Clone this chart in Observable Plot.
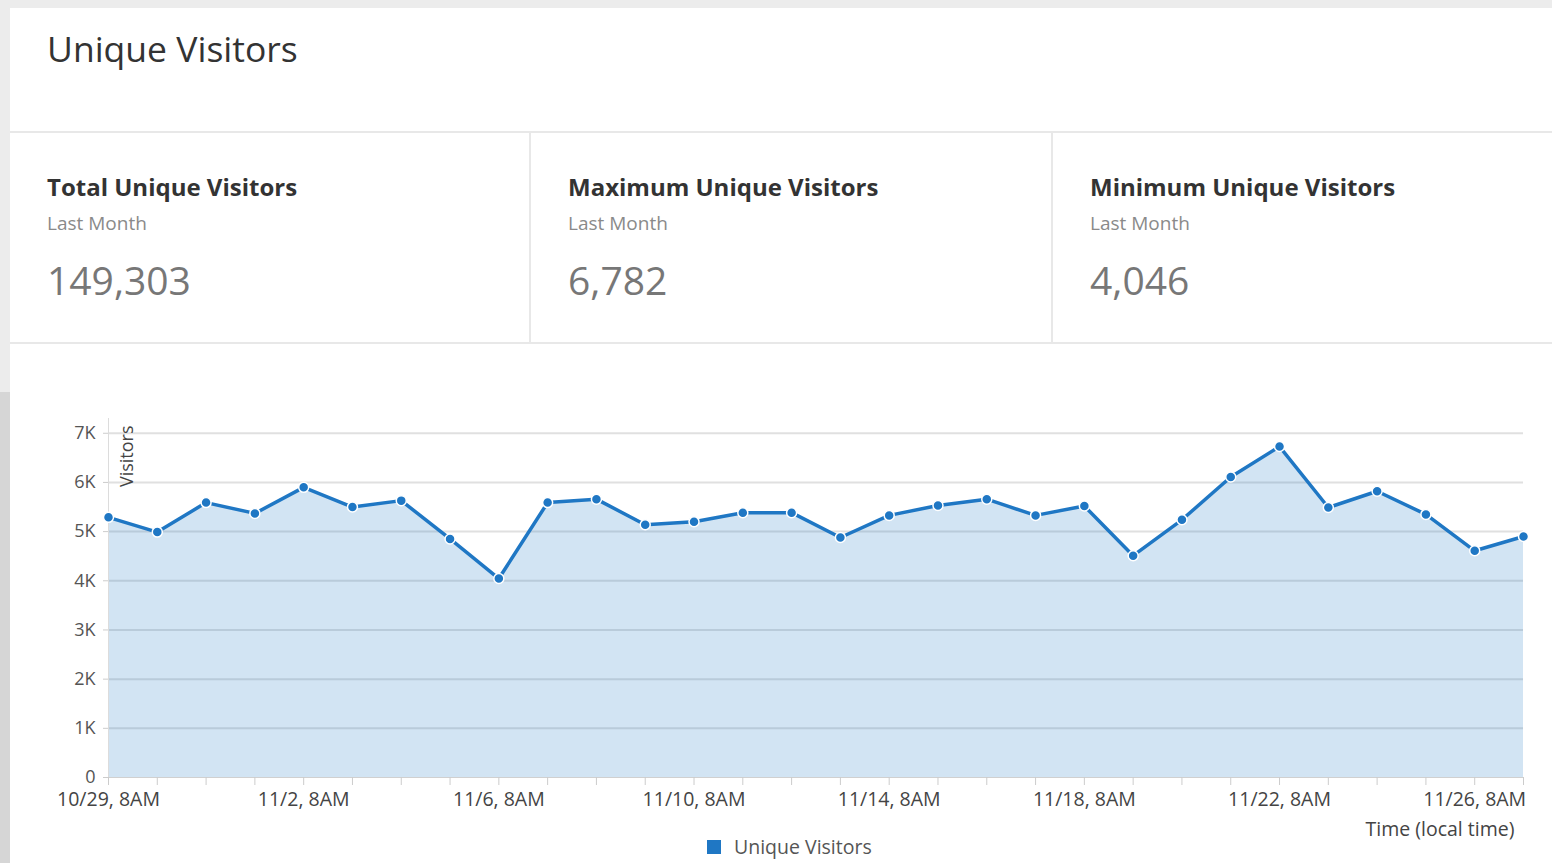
<!DOCTYPE html>
<html>
<head>
<meta charset="utf-8">
<script src="https://cdn.jsdelivr.net/npm/d3@7"></script>
<script src="https://cdn.jsdelivr.net/npm/@observablehq/plot@0.6"></script>
<style>
  html, body { margin: 0; padding: 0; }
  body { width: 1552px; height: 863px; background: #ececec; position: relative; overflow: hidden; font-family: "Open Sans", sans-serif; }
  #strip { position: absolute; left: 0; top: 392px; width: 10px; height: 471px; background: #d6d6d6; }
  #card { position: absolute; left: 10px; top: 8px; right: 0; bottom: 0; background: #fff; }
  .abs { position: absolute; white-space: nowrap; line-height: 1; }
  .hline { position: absolute; left: 10px; right: 0; height: 2px; background: #e8e8e8; }
  .vline { position: absolute; width: 2px; background: #e8e8e8; }
  .title { font-size: 35.5px; color: #333; }
  .sh { font-size: 24px; font-weight: 700; color: #333; }
  .sub { font-size: 19px; color: #8a8a8a; }
  .num { font-size: 39px; color: #777; }
  #chart { position: absolute; left: 0; top: 400px; }
  #legend { position: absolute; left: 707px; top: 833px; display: flex; align-items: center; font-size: 19.5px; color: #555; }
  #legend .sw { width: 14px; height: 14px; background: #1f77c4; margin-right: 13px; }
</style>
</head>
<body>
<div id="strip"></div>
<div id="card"></div>
<div class="abs title" style="left:47px; top:31px;">Unique Visitors</div>
<div class="hline" style="top:131px;"></div>
<div class="hline" style="top:342px;"></div>
<div class="vline" style="left:529px; top:133px; height:209px;"></div>
<div class="vline" style="left:1051px; top:133px; height:209px;"></div>
<div id="stats"></div>
<div id="chart"></div>
<div id="legend"><div class="sw"></div><span>Unique Visitors</span></div>
<script>
// ---- data ----
const statTitles = ["Total Unique Visitors", "Maximum Unique Visitors", "Minimum Unique Visitors"];
const statPeriods = ["Last Month", "Last Month", "Last Month"];
const statValues = ["149,303", "6,782", "4,046"];

const dayLabels = ["10/29","10/30","10/31","11/1","11/2","11/3","11/4","11/5","11/6","11/7",
  "11/8","11/9","11/10","11/11","11/12","11/13","11/14","11/15","11/16","11/17",
  "11/18","11/19","11/20","11/21","11/22","11/23","11/24","11/25","11/26","11/27"];
const visitors = [5290, 4990, 5590, 5370, 5900, 5500, 5630, 4850, 4046, 5590,
  5660, 5140, 5200, 5385, 5385, 4880, 5330, 5530, 5660, 5330,
  5520, 4510, 5240, 6110, 6730, 5490, 5820, 5350, 4610, 4900];
const xTickLabels = ["10/29, 8AM","11/2, 8AM","11/6, 8AM","11/10, 8AM","11/14, 8AM","11/18, 8AM","11/22, 8AM","11/26, 8AM"];
const yTicks = [0, 1000, 2000, 3000, 4000, 5000, 6000, 7000];
const yTickLabels = ["0","1K","2K","3K","4K","5K","6K","7K"];
const yLabel = "Visitors";
const xLabel = "Time (local time)";
const seriesName = "Unique Visitors";

// ---- stats cards ----
const statsX = [47, 568, 1090];
const stats = document.getElementById("stats");
statTitles.forEach((t, i) => {
  stats.insertAdjacentHTML("beforeend",
    `<div class="abs sh" style="left:${statsX[i]}px; top:175px;">${t}</div>` +
    `<div class="abs sub" style="left:${statsX[i]}px; top:214px;">${statPeriods[i]}</div>` +
    `<div class="abs num" style="left:${statsX[i]}px; top:260px;">${statValues[i]}</div>`);
});

// ---- chart ----
const parseDay = (s) => { const [m, d] = s.split("/").map(Number); return new Date(Date.UTC(2018, m - 1, d, 8)); };
const data = dayLabels.map((s, i) => ({date: parseDay(s), value: visitors[i]}));
const dates = data.map(d => d.date);
const labelMap = new Map();
xTickLabels.forEach(l => labelMap.set(+parseDay(l.split(",")[0]), l));
const yLabMap = new Map(yTicks.map((v, i) => [v, yTickLabels[i]]));

const plot = Plot.plot({
  width: 1552,
  height: 448,
  marginLeft: 108,
  marginRight: 29,
  marginTop: 18,
  marginBottom: 71,
  style: {fontFamily: "'Open Sans', sans-serif", fontSize: "18px", color: "#555", background: "transparent"},
  x: {type: "utc", domain: [dates[0], dates[dates.length - 1]]},
  y: {domain: [0, 7300]},
  marks: [
    Plot.ruleY(yTicks.slice(1), {stroke: "#e0e0e0", strokeWidth: 2}),
    Plot.areaY(data, {x: "date", y: "value", fill: "#1f77c4", fillOpacity: 0.2}),
    Plot.frame({anchor: "left", stroke: "#dcdcdc"}),
    Plot.ruleY([0], {stroke: "#d0d0d0"}),
    Plot.axisY(yTicks, {tickSize: 5, tickPadding: 8, stroke: "#ccc", fill: "#555", fontSize: 18, tickFormat: d => yLabMap.get(d), label: null}),
    Plot.axisX(dates, {tickSize: 8, tickPadding: 7, stroke: "#ccc", fill: "#444", fontSize: 19.5, tickFormat: d => labelMap.get(+d) ?? "", label: null}),
    Plot.lineY(data, {x: "date", y: "value", stroke: "#1f77c4", strokeWidth: 3.5}),
    Plot.dot(data, {x: "date", y: "value", r: 5, fill: "#1f77c4", stroke: "white", strokeWidth: 1.5}),
    Plot.text([yLabel], {frameAnchor: "top-left", rotate: -90, textAnchor: "end", dx: 12, dy: 7, fontSize: 18, fill: "#444"}),
    Plot.text([xLabel], {frameAnchor: "bottom-right", textAnchor: "end", dx: -9, dy: 58, fontSize: 19.5, fill: "#444"})
  ]
});
document.getElementById("chart").appendChild(plot);
</script>
</body>
</html>
